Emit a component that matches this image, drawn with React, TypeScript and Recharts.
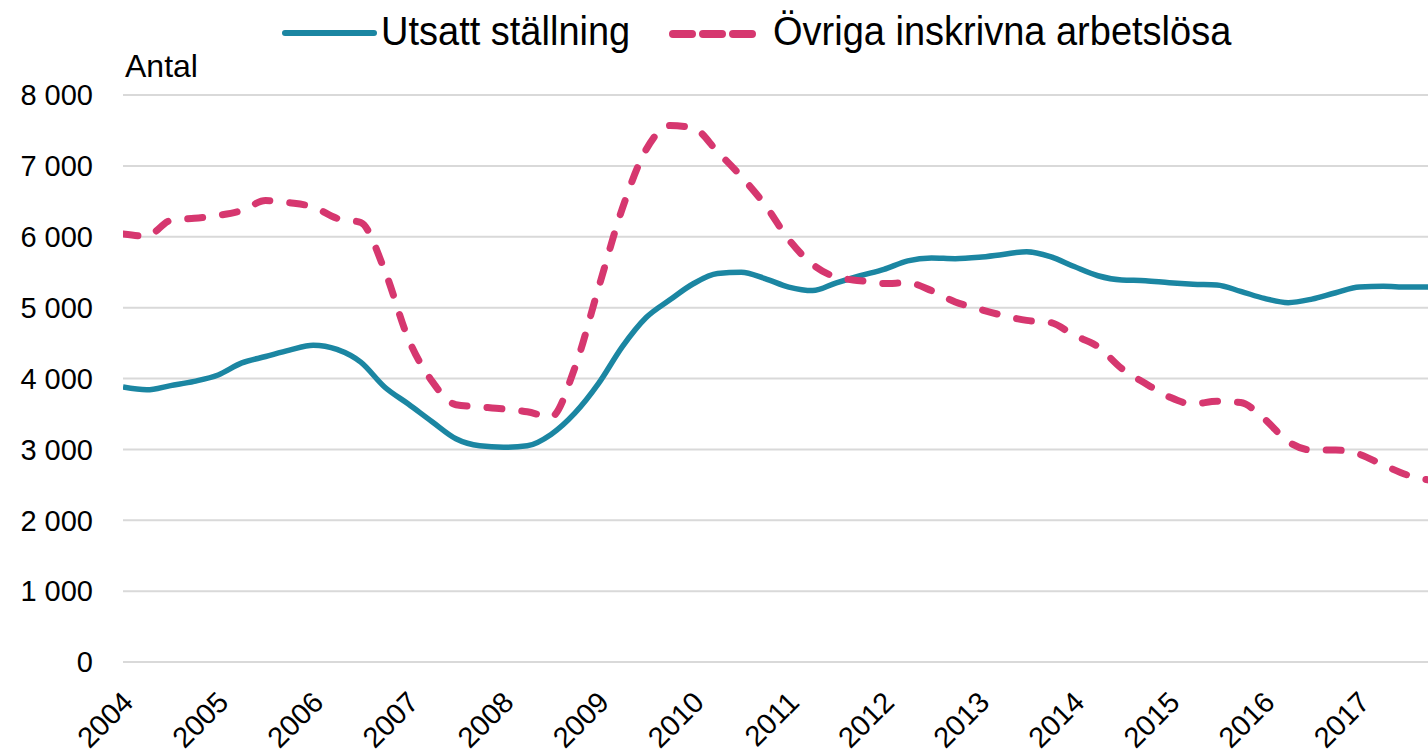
import React from 'react';
import { LineChart, Line, XAxis, YAxis, CartesianGrid } from 'recharts';

// quarterly points, fractional years
const periods = [
  2004.0, 2004.25, 2004.5, 2004.75, 2005.0, 2005.25, 2005.5, 2005.75,
  2006.0, 2006.25, 2006.5, 2006.75, 2007.0, 2007.25, 2007.5, 2007.75,
  2008.0, 2008.25, 2008.5, 2008.75, 2009.0, 2009.25, 2009.5, 2009.75,
  2010.0, 2010.25, 2010.5, 2010.75, 2011.0, 2011.25, 2011.5, 2011.75,
  2012.0, 2012.25, 2012.5, 2012.75, 2013.0, 2013.25, 2013.5, 2013.75,
  2014.0, 2014.25, 2014.5, 2014.75, 2015.0, 2015.25, 2015.5, 2015.75,
  2016.0, 2016.25, 2016.5, 2016.75, 2017.0, 2017.25, 2017.5, 2017.72,
];

const utsatt = [
  3880, 3840, 3900, 3960, 4050, 4220, 4310, 4400,
  4470, 4410, 4230, 3880, 3640, 3390, 3150, 3050,
  3030, 3050, 3210, 3510, 3930, 4450, 4860, 5110,
  5340, 5480, 5500, 5410, 5290, 5240, 5350, 5450,
  5540, 5660, 5700, 5690, 5710, 5750, 5790, 5720,
  5580, 5450, 5390, 5380, 5350, 5330, 5320, 5230,
  5130, 5070, 5120, 5210, 5290, 5300, 5290, 5290,
];

const ovriga = [
  6040, 6010, 6230, 6260, 6300, 6370, 6510, 6480,
  6420, 6260, 6200, 5530, 4560, 3960, 3630, 3600,
  3570, 3530, 3460, 4150, 5280, 6400, 7230, 7570,
  7530, 7200, 6850, 6450, 5960, 5610, 5430, 5380,
  5340, 5350, 5240, 5080, 4980, 4890, 4820, 4790,
  4610, 4450, 4140, 3930, 3740, 3640, 3680, 3660,
  3430, 3110, 2990, 2990, 2930, 2780, 2640, 2570,
];

const yearTicks = [2004, 2005, 2006, 2007, 2008, 2009, 2010, 2011, 2012, 2013, 2014, 2015, 2016, 2017];
const valueTicks = [0, 1000, 2000, 3000, 4000, 5000, 6000, 7000, 8000];

const data = periods.map((t, i) => ({ t, utsatt: utsatt[i], ovriga: ovriga[i] }));

const BLUE = '#1B86A2';
const PINK = '#D6376F';
const FONT = '"Liberation Sans", Arial, sans-serif';

const fmt = (v: number) => String(v).replace(/\B(?=(\d{3})+(?!\d))/g, ' ');

const YearTick = (props: any) => {
  const { x, y, payload } = props;
  return (
    <text
      transform={`translate(${x + 12},${y + 40}) rotate(-45)`}
      textAnchor="end"
      fontSize={29}
      fontFamily={FONT}
      fill="#000"
    >
      {payload.value}
    </text>
  );
};

const legendText: React.CSSProperties = {
  position: 'absolute',
  top: 8,
  fontSize: 38,
  color: '#000',
  whiteSpace: 'nowrap',
  lineHeight: '46px',
  transform: 'scaleY(1.06)',
};

const App: React.FC = () => {
  return (
    <div style={{ position: 'absolute', left: 0, top: 0, width: 1428, height: 755, background: '#fff', overflow: 'hidden', fontFamily: FONT }}>
      <LineChart width={1428} height={755} data={data} margin={{ top: 95, right: 0, left: 0, bottom: 0 }}>
        <CartesianGrid vertical={false} stroke="#d9d9d9" strokeWidth={2} />
        <XAxis
          dataKey="t"
          type="number"
          domain={[2004, 2017.72]}
          ticks={yearTicks}
          allowDataOverflow
          axisLine={false}
          tickLine={false}
          tickSize={0}
          height={93}
          tick={<YearTick />}
          interval={0}
        />
        <YAxis
          domain={[0, 8000]}
          ticks={valueTicks}
          width={123}
          axisLine={false}
          tickLine={false}
          tickSize={0}
          tickMargin={30}
          tickFormatter={fmt}
          tick={{ fontSize: 29, fill: '#000', fontFamily: FONT }}
        />
        <Line type="monotone" dataKey="utsatt" stroke={BLUE} strokeWidth={5.5} dot={false} isAnimationActive={false} />
        <Line
          type="monotone"
          dataKey="ovriga"
          stroke={PINK}
          strokeWidth={7}
          strokeDasharray="15 20"
          strokeLinecap="round"
          dot={false}
          isAnimationActive={false}
        />
      </LineChart>

      <div style={{ position: 'absolute', left: 125, top: 48, fontSize: 32, color: '#000' }}>Antal</div>

      <svg width={1428} height={60} style={{ position: 'absolute', left: 0, top: 0 }}>
        <line x1={285} y1={33} x2={374} y2={33} stroke={BLUE} strokeWidth={6} strokeLinecap="round" />
        <line x1={673} y1={34} x2={757} y2={34} stroke={PINK} strokeWidth={8} strokeDasharray="19 11" strokeLinecap="round" />
      </svg>
      <div style={{ ...legendText, left: 381 }}>Utsatt ställning</div>
      <div style={{ ...legendText, left: 773 }}>Övriga inskrivna arbetslösa</div>
    </div>
  );
};

export default App;
